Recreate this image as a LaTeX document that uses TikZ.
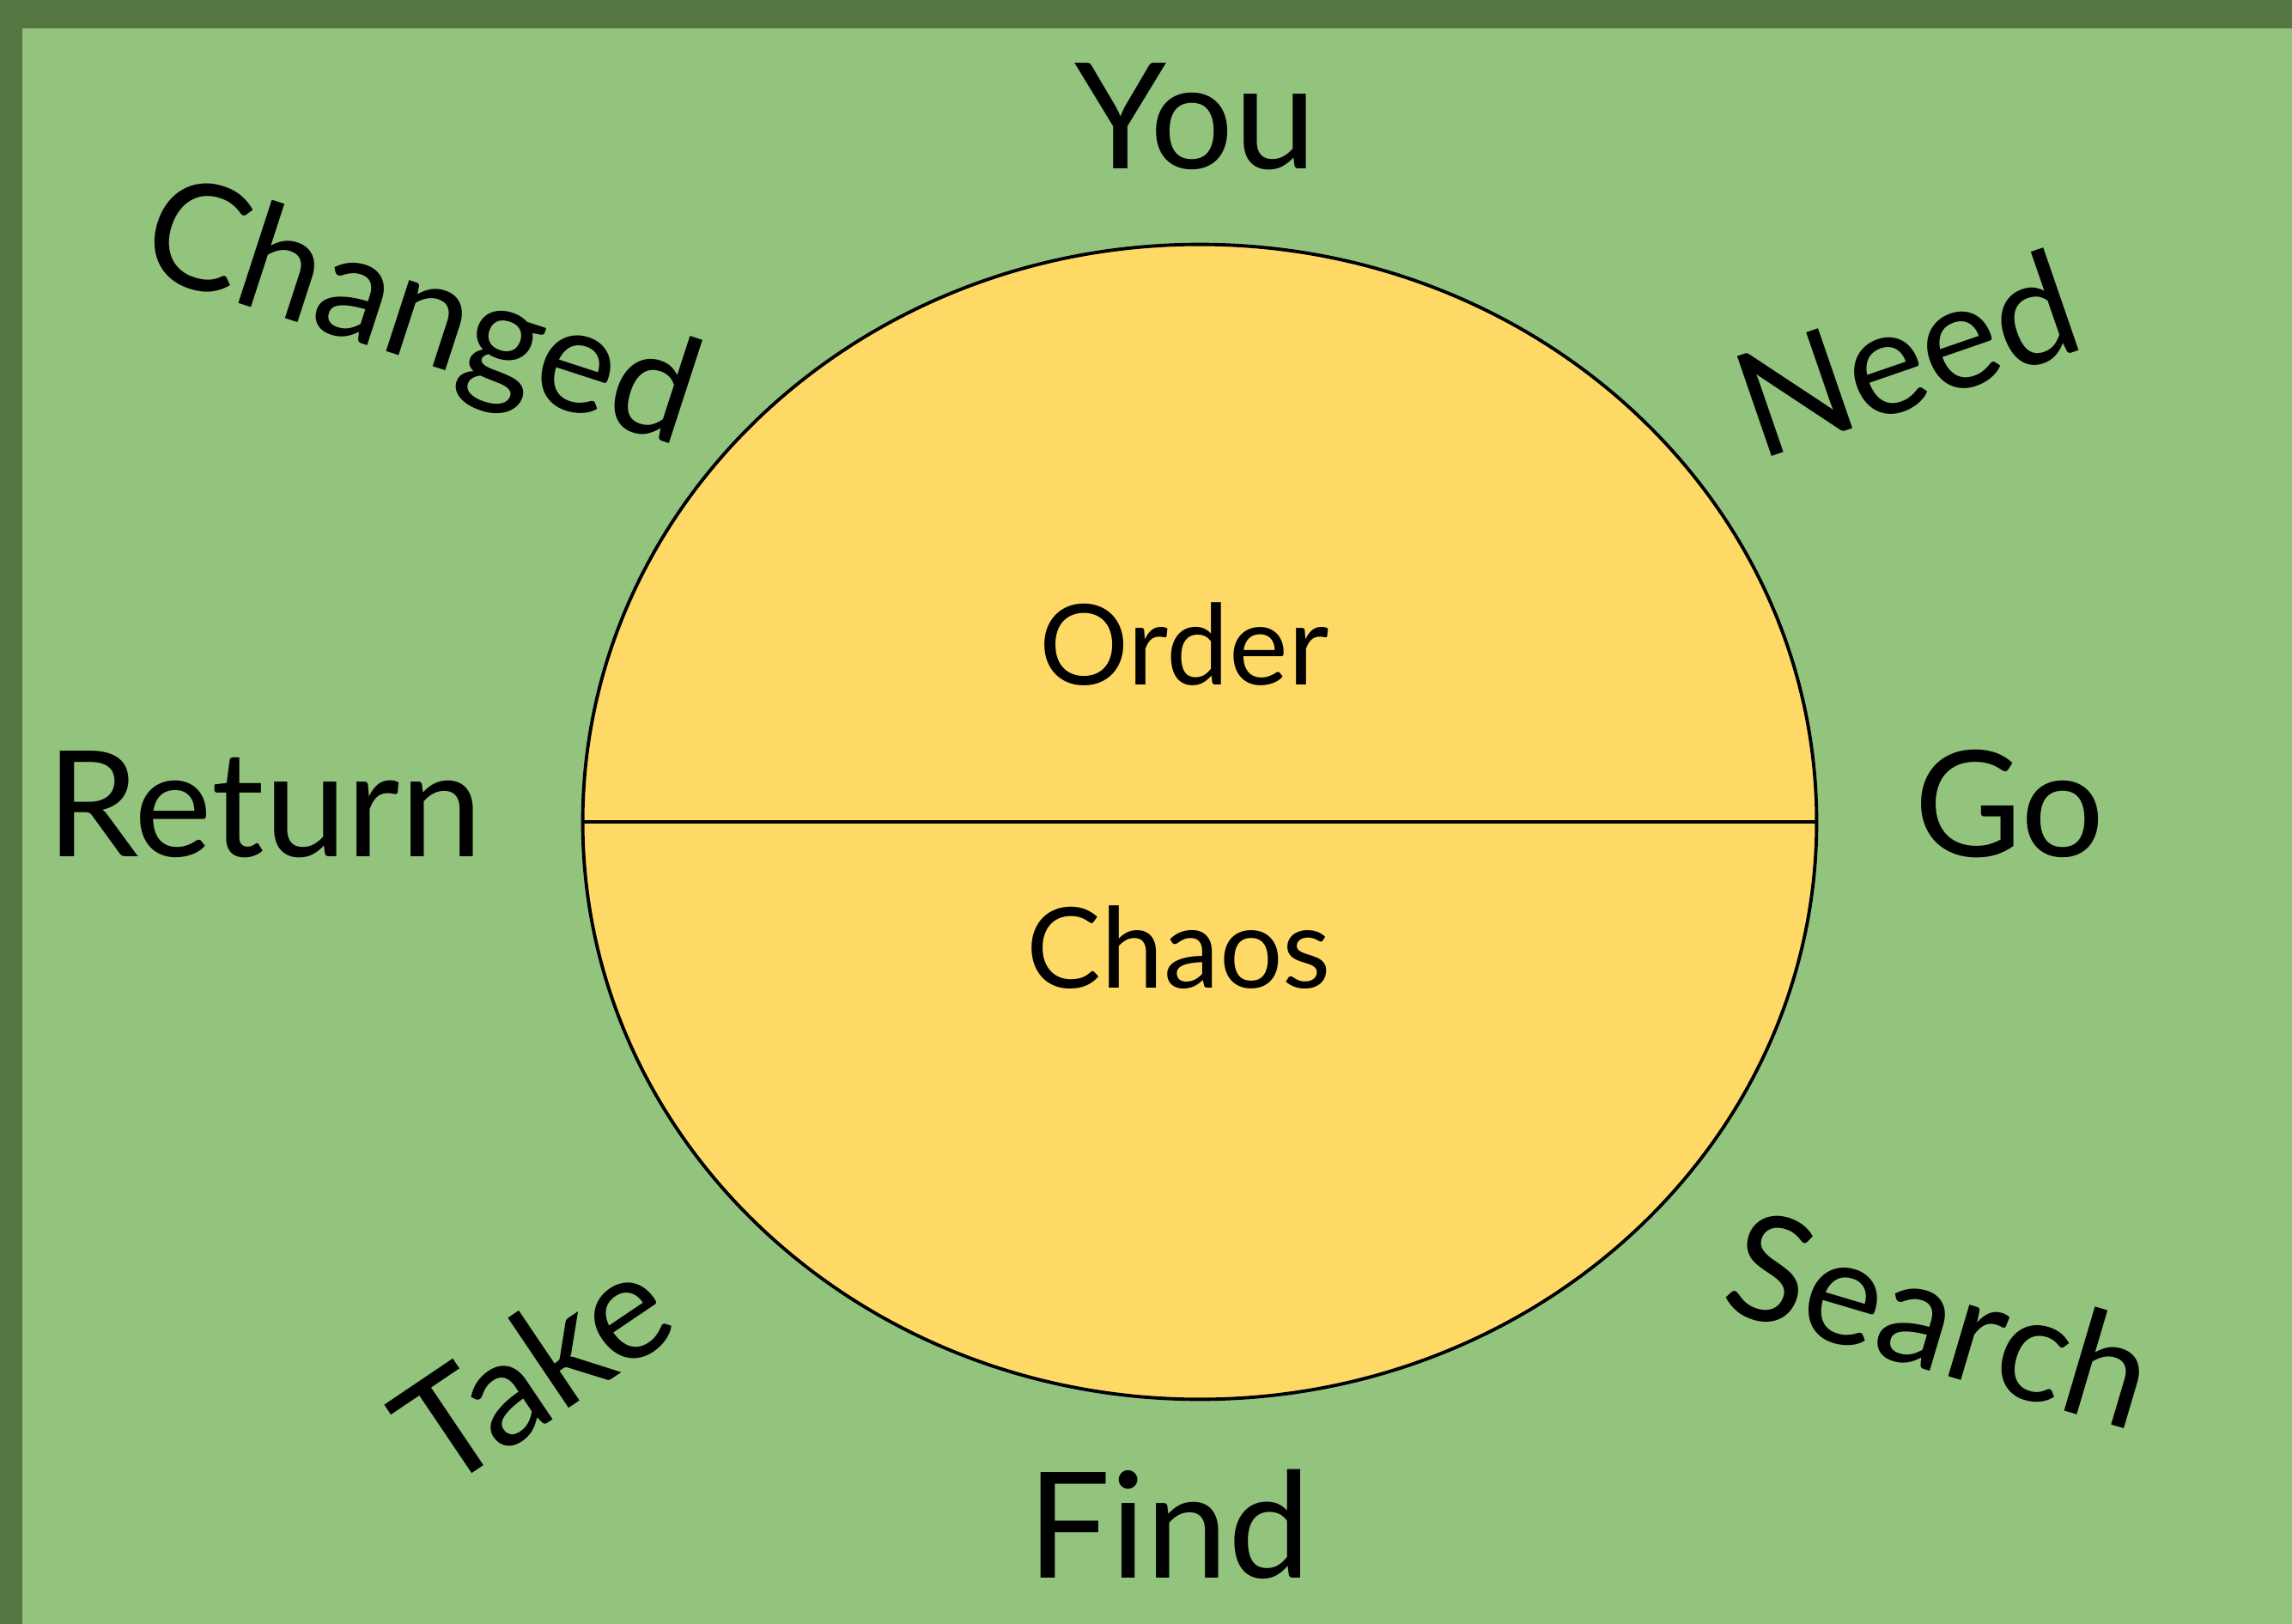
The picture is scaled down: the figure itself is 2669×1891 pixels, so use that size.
\documentclass[tikz,border=0pt]{standalone}
\usepackage{fontspec}
\setmainfont{Lato}
\usetikzlibrary{shapes.geometric}
\definecolor{framegreen}{HTML}{557842}
\definecolor{fieldgreen}{HTML}{93C47D}
\definecolor{sunyellow}{HTML}{FFD966}
\begin{document}
\begin{tikzpicture}[
    x=0.01cm, y=-0.01cm,
    word/.style={inner sep=0pt, font=\fontsize{48.8}{58}\selectfont},
    half/.style={inner sep=0pt, font=\fontsize{37}{44}\selectfont, anchor=base},
    disc/.style={ellipse, draw=black, line width=1.1pt, fill=sunyellow,
      minimum width=14.36cm, minimum height=13.44cm, inner sep=0pt},
  ]
    \useasboundingbox (0,0) rectangle (2669,1891);
    \fill[framegreen] (0,0) rectangle (2669,1891);
    \fill[fieldgreen] (26,33) rectangle (2669,1891);

    \node[disc] (sun) at (1397,957) {};
    \draw[line width=1.1pt] (sun.west) -- (sun.east);
    \node[half] (order) at (1379,797) {Order};
    \node[half] (chaos) at (1373,1150) {Chaos};

    % words round the circle
    \node[word, anchor=base] (you) at (1392,197) {You};
    \node[word, anchor=base] (find) at (1361,1837) {Find};
    \node[word, anchor=base] (return) at (308,997) {Return};
    \node[word, anchor=base] (go) at (2340,997) {Go};
    \node[word, rotate=-18] (changed) at (489,372) {Changed};
    \node[word, rotate=19] (need) at (2220,411) {Need};
    \node[word, rotate=-16.5] (search) at (2260,1535) {Search};
    \node[word, rotate=34] (take) at (620,1593) {Take};
\end{tikzpicture}
\end{document}
